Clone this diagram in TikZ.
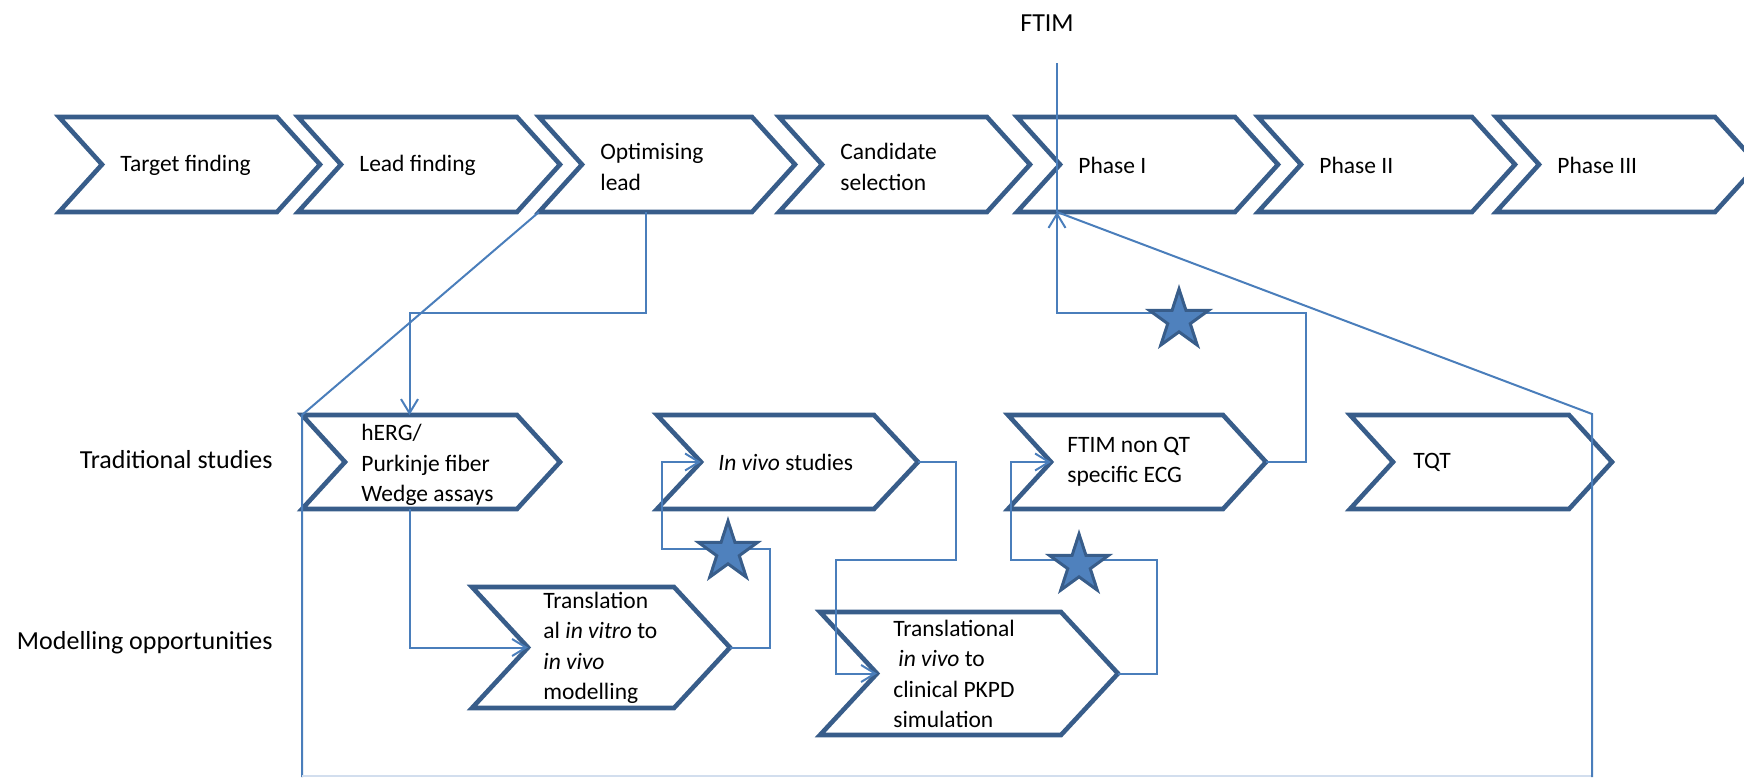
\documentclass[tikz,border=0pt]{standalone}
\usepackage{fontspec}
\setmainfont{Carlito}
\usetikzlibrary{arrows.meta,shapes.geometric,calc}
\definecolor{chevblue}{RGB}{56,93,138}
\definecolor{linkblue}{RGB}{74,126,187}
\definecolor{starfill}{RGB}{79,129,189}
\definecolor{lightlink}{RGB}{210,222,238}
\tikzset{
  chevline/.style={draw=chevblue, line width=2.3pt, fill=white, line join=miter},
  conn/.style={draw=linkblue, line width=1pt, line join=miter},
  connlight/.style={draw=lightlink, line width=1pt},
  arr/.style={-{Straight Barb[length=7pt,width=8.5pt,line width=1pt]}},
  ctext/.style={font=\fontsize{11.75}{15.2}\selectfont, align=left, anchor=west, inner sep=0pt, text=black},
  rowlabel/.style={font=\fontsize{13}{16}\selectfont, anchor=east, inner sep=0pt, text=black},
  starmark/.style={star, star points=5, star point ratio=2.618, minimum size=31pt, inner sep=0pt, draw=chevblue, fill=starfill, line width=1.5pt},
}
% name, left, top, width, height, depth
\newcommand\chevshape[6]{%
  \path (#2,#3) coordinate (#1-nw)
    ++(#4-#6,0) coordinate (#1-ne)
    ++(#6,#5/2) coordinate (#1-tip)
    ++(-#6,#5/2) coordinate (#1-se)
    ++(-#4+#6,0) coordinate (#1-sw)
    ++(#6,-#5/2) coordinate (#1-notch);
  \coordinate (#1-n) at ($(#1-nw)!0.5!(#1-ne)$);
  \coordinate (#1-s) at ($(#1-sw)!0.5!(#1-se)$);
  \draw[chevline] (#1-nw) -- (#1-ne) -- (#1-tip) -- (#1-se) -- (#1-sw) -- (#1-notch) -- cycle;
}
\begin{document}
\begin{tikzpicture}[x=0.5pt,y=-0.5pt]
\useasboundingbox (0,0) rectangle (1744,777);
\clip (0,0) rectangle (1744,777);
% top row
\chevshape{c1}{59}{117}{261}{95}{43}
\chevshape{c2}{298}{117}{262}{95}{43}
\chevshape{c3}{539}{117}{256}{95}{43}
\chevshape{c4}{779}{117}{251}{95}{43}
\chevshape{c5}{1017}{117}{261}{95}{43}
\chevshape{c6}{1258}{117}{257}{95}{43}
\chevshape{c7}{1496}{117}{262}{95}{43}
% second row
\chevshape{herg}{302}{415}{258}{94}{43}
\chevshape{inv}{657}{415}{261}{94}{44}
\chevshape{ftim}{1008}{415}{258}{94}{43}
\chevshape{tqt}{1350}{415}{262}{94}{43}
% modelling row
\chevshape{tiv}{472}{587}{258}{121}{56}
\chevshape{tivv}{820}{612}{298}{123}{57}

% texts
\node[ctext] (t1) at (120,165) {Target finding};
\node[ctext] (t2) at (359,165) {Lead finding};
\node[ctext] (t3) at (600,167) {Optimising\\lead};
\node[ctext] (t4) at (840,167) {Candidate\\selection};
\node[ctext] (t5) at (1078,165) {Phase I};
\node[ctext] (t6) at (1319,165) {Phase II};
\node[ctext] (t7) at (1557,165) {Phase III};
\node[ctext] (thERG) at (361,465) {hERG/\\Purkinje fiber\\Wedge assays};
\node[ctext] (tinv) at (718,462) {\textit{In vivo} studies};
\node[ctext] (tftim) at (1067,462) {FTIM non QT\\specific ECG};
\node[ctext] (ttqt) at (1413,462) {TQT};
\node[ctext] (ttiv) at (543,648) {Translation\\al \textit{in vitro} to\\\textit{in vivo}\\modelling};
\node[ctext] (ttivv) at (893,674) {Translational\\\hspace*{2.5pt}\textit{in vivo} to\\clinical PKPD\\simulation};
\node[rowlabel] (lbtrad) at (273,460) {Traditional studies};
\node[rowlabel] (lbmod) at (273,643) {Modelling opportunities};
\node[font=\fontsize{13}{16}\selectfont, inner sep=0pt] (lbftim) at (1047,23) {FTIM};

% connectors
\coordinate (ftimtop) at (1057,63);
\coordinate (ftimbot) at (1057,212);
\coordinate (brLb) at (302,777);
\coordinate (brRb) at (1592,777);
\coordinate (brRt) at (1592,414);
\coordinate (brLl) at (302,776);
\coordinate (brRl) at (1592,776);
\draw[conn] (ftimtop) -- (ftimbot);
\draw[conn,arr] (c3-s) -- ++(0,101) -| (herg-n);
\draw[conn] (c3-sw) -- (herg-nw) -- (brLb);
\draw[connlight] (brLl) -- (brRl);
\draw[conn] (brRb) -- (brRt) -- (ftimbot);
\draw[conn,arr] (herg-s) |- (tiv-notch);
\draw[conn,arr] (tiv-tip) -- ++(40,0) -- ++(0,-99) -- ++(-108,0) |- (inv-notch);
\draw[conn,arr] (inv-tip) -- ++(38,0) -- ++(0,98) -- ++(-120,0) |- (tivv-notch);
\draw[conn,arr] (tivv-tip) -- ++(39,0) -- ++(0,-113.5) -- ++(-146,0) |- (ftim-notch);
\draw[conn,arr] (ftim-tip) -- ++(40,0) -- ++(0,-149) -| (ftimbot);

% stars
\node[starmark] (s1) at (728,552) {};
\node[starmark] (s2) at (1179,320) {};
\node[starmark] (s3) at (1079,565) {};
\end{tikzpicture}
\end{document}
